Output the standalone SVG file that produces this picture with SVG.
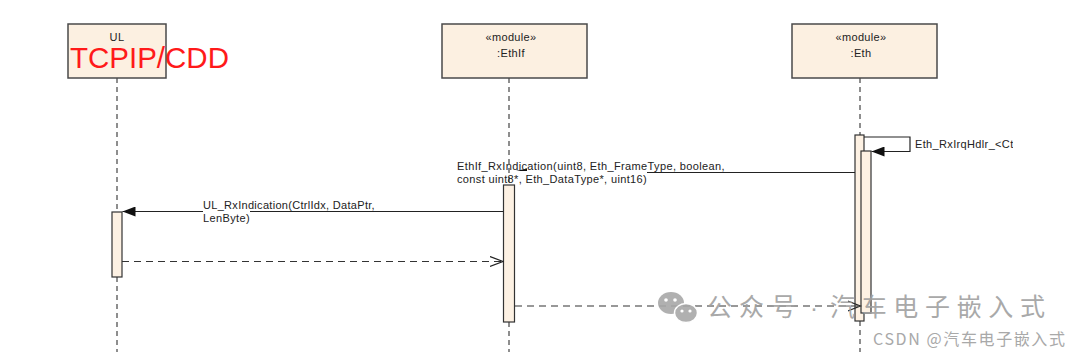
<svg xmlns="http://www.w3.org/2000/svg" width="1080" height="352" viewBox="0 0 1080 352">
<style>
.box{fill:#fcf0e1;stroke:#4a4a4a;stroke-width:1.5}
.act{fill:#fdf1e3;stroke:#333;stroke-width:1.2}
.life{stroke:#444;stroke-width:1.2;stroke-dasharray:5 4;fill:none}
.msg{stroke:#222;stroke-width:1.2;fill:none}
.ret{stroke:#333;stroke-width:1.2;stroke-dasharray:7 5;fill:none}
.t{font-family:"Liberation Sans",Arial,sans-serif;font-size:11px;letter-spacing:0.35px;fill:#222}
.wm{font-family:"Noto Sans CJK SC",sans-serif;fill:#a0a0a0}
</style>
<defs>
<marker id="filled" markerWidth="14" markerHeight="10" refX="13" refY="5" orient="auto" markerUnits="userSpaceOnUse">
<path d="M0,0 L13,5 L0,10 Z" fill="#111"/>
</marker>
<marker id="open" markerWidth="14" markerHeight="12" refX="13" refY="6" orient="auto" markerUnits="userSpaceOnUse">
<path d="M0,1 L13,6 L0,11" fill="none" stroke="#222" stroke-width="1.2"/>
</marker>
<clipPath id="clipR"><rect x="0" y="0" width="1013" height="352"/></clipPath>
</defs>
<rect width="1080" height="352" fill="#fff"/>

<g id="lifelines">
<line class="life" x1="117" y1="78" x2="117" y2="212"/>
<line class="life" x1="117" y1="277" x2="117" y2="352"/>
<line class="life" x1="509" y1="78" x2="509" y2="185"/>
<line class="life" x1="509" y1="322" x2="509" y2="352"/>
<line class="life" x1="860" y1="78" x2="860" y2="135"/>
<line class="life" x1="860" y1="321" x2="860" y2="352"/>
</g>

<g id="node-ul">
<rect class="box" x="68" y="24" width="98" height="54"/>
<text class="t" x="117" y="41" text-anchor="middle">UL</text>
<text x="70" y="68" font-family="'Liberation Sans',Arial,sans-serif" font-size="29.5" fill="#ff1a1a">TCPIP/CDD</text>
</g>

<g id="node-ethif">
<rect class="box" x="442" y="24" width="145" height="54"/>
<text class="t" x="511" y="41" text-anchor="middle">«module»</text>
<text class="t" x="511" y="57" text-anchor="middle">:EthIf</text>
</g>

<g id="node-eth">
<rect class="box" x="792" y="24" width="145" height="54"/>
<text class="t" x="861" y="41" text-anchor="middle">«module»</text>
<text class="t" x="861" y="57" text-anchor="middle">:Eth</text>
</g>

<g id="activations">
<rect class="act" x="112" y="212" width="10" height="65"/>
<rect class="act" x="503.5" y="185" width="11" height="137"/>
<rect class="act" x="855" y="135" width="9" height="186"/>
<rect class="act" x="861" y="151" width="10" height="162"/>
</g>

<g id="connectors">
<path class="msg" d="M864,137 H910 V151.5 H871.5" marker-end="url(#filled)"/>
<line class="msg" x1="855" y1="172.5" x2="647" y2="172.5"/>
<path d="M516,171 L527,168.5 L527,171 Z" fill="#111"/>
<line class="msg" x1="503.5" y1="211.5" x2="250" y2="211.5"/>
<line class="msg" x1="203" y1="211.5" x2="122.5" y2="211.5" marker-end="url(#filled)"/>
<line class="ret" x1="122" y1="261.5" x2="503" y2="261.5" marker-end="url(#open)"/>
<line class="ret" x1="515" y1="306" x2="860.5" y2="306" marker-end="url(#open)"/>
</g>

<g id="labels">
<text class="t" x="915" y="148" clip-path="url(#clipR)">Eth_RxIrqHdlr_&lt;CtrlIdx&gt;</text>
<text class="t" x="457" y="170" textLength="268" lengthAdjust="spacing">EthIf_RxIndication(uint8, Eth_FrameType, boolean,</text>
<text class="t" x="457" y="183" textLength="190" lengthAdjust="spacing">const uint8*, Eth_DataType*, uint16)</text>
<text class="t" x="203" y="209" textLength="172" lengthAdjust="spacing">UL_RxIndication(CtrlIdx, DataPtr,</text>
<text class="t" x="203" y="222" textLength="47" lengthAdjust="spacing">LenByte)</text>
</g>

<g id="watermark" opacity="0.9">
<ellipse cx="671" cy="303" rx="13" ry="11" fill="#a8a8a8"/>
<circle cx="666" cy="300" r="1.8" fill="#fff"/>
<circle cx="675" cy="300" r="1.8" fill="#fff"/>
<ellipse cx="686" cy="313" rx="11.5" ry="9.5" fill="#a8a8a8" stroke="#fff" stroke-width="1.5"/>
<circle cx="682" cy="311" r="1.6" fill="#fff"/>
<circle cx="690" cy="311" r="1.6" fill="#fff"/>
<text class="wm" x="707" y="316" font-size="25" letter-spacing="7">公众号</text>
<text x="814" y="316" font-family="'Liberation Sans',Arial,sans-serif" font-size="24" fill="#a0a0a0" text-anchor="middle">·</text>
<text class="wm" x="830" y="316" font-size="25" textLength="215" lengthAdjust="spacing">汽车电子嵌入式</text>
<text class="wm" x="873" y="345" font-size="16" textLength="192" lengthAdjust="spacing">CSDN @汽车电子嵌入式</text>
</g>
</svg>
